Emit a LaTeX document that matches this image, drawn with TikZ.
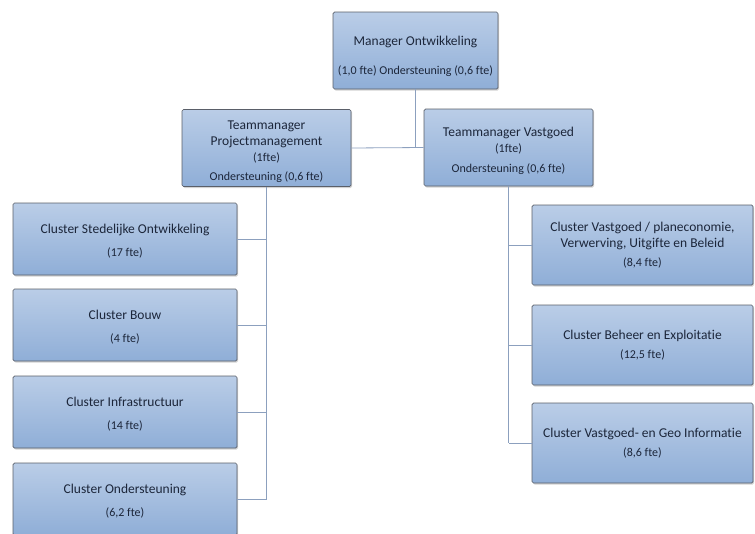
\documentclass[tikz,border=0pt]{standalone}
\usepackage{fontspec}
\setmainfont{Carlito}[Ligatures={NoCommon}]
\usetikzlibrary{shadows}
\definecolor{boxtop}{RGB}{186,205,231}
\definecolor{boxbottom}{RGB}{143,174,215}
\definecolor{boxline}{RGB}{90,95,105}
\definecolor{linkline}{RGB}{140,160,190}
\definecolor{txt}{RGB}{28,38,58}
\tikzset{
  unit/.style={draw=boxline, line width=0.7pt, rounded corners=1.5pt,
    top color=boxtop, bottom color=boxbottom, text=txt, align=center,
    inner sep=2pt,
    font=\fontsize{13.5}{16}\selectfont,
    drop shadow={shadow xshift=1.2pt, shadow yshift=-1.5pt, opacity=0.35}},
  lead/.style={unit, minimum width=169pt, minimum height=77pt},
  cl/.style={unit, minimum width=224pt, minimum height=72pt},
  cr/.style={unit, minimum width=221pt, minimum height=80pt},
  link/.style={draw=linkline, line width=0.8pt},
}
\newcommand{\ftesize}{\fontsize{12}{14}\selectfont}
\begin{document}
\begin{tikzpicture}[x=1pt,y=-1pt]
\useasboundingbox (0,0) rectangle (755,533);

% management
\node[lead, minimum width=165pt] (mgr) at (415.5,50.5)
  {\rule{0pt}{22pt}Manager Ontwikkeling\\[13pt]{\ftesize(1,0 fte) Ondersteuning (0,6 fte)}};
\node[lead] (tmp) at (266.5,148)
  {\rule{0pt}{16pt}Teammanager\\Projectmanagement\\{\ftesize(1fte)}\\[3pt]{\ftesize Ondersteuning (0,6 fte)}};
\node[lead] (tmv) at (508.5,147.5)
  {\rule{0pt}{16pt}Teammanager Vastgoed\\{\ftesize(1fte)}\\[4pt]{\ftesize Ondersteuning (0,6 fte)}};

% clusters under Projectmanagement
\node[cl] (c1) at (125,239) {\rule{0pt}{14pt}Cluster Stedelijke Ontwikkeling\\[7pt]{\ftesize(17 fte)}};
\node[cl] (c2) at (125,325) {\rule{0pt}{14pt}Cluster Bouw\\[7pt]{\ftesize(4 fte)}};
\node[cl] (c3) at (125,412) {\rule{0pt}{14pt}Cluster Infrastructuur\\[7pt]{\ftesize(14 fte)}};
\node[cl] (c4) at (125,499) {\rule{0pt}{14pt}Cluster Ondersteuning\\[7pt]{\ftesize(6,2 fte)}};

% clusters under Vastgoed
\node[cr] (v1) at (642.5,245)
  {Cluster Vastgoed / planeconomie,\\Verwerving, Uitgifte en Beleid\\[3pt]{\ftesize(8,4 fte)}};
\node[cr] (v2) at (642.5,345) {Cluster Beheer en Exploitatie\\[3pt]{\ftesize(12,5 fte)}};
\node[cr] (v3) at (642.5,443) {Cluster Vastgoed- en Geo Informatie\\[3pt]{\ftesize(8,6 fte)}};

% connectors
\draw[link] (mgr.south) -- (mgr.south |- tmp.east);
\draw[link] (tmp.east) -- (tmv.west);
\draw[link] (tmp.south) -- (tmp.south |- c4.east);
\foreach \c in {c1,c2,c3,c4}
  \draw[link] (\c.east) -- (\c.east -| tmp.south);
\draw[link] (tmv.south) -- (tmv.south |- v3.west);
\foreach \v in {v1,v2,v3}
  \draw[link] (\v.west) -- (\v.west -| tmv.south);
\end{tikzpicture}
\end{document}
